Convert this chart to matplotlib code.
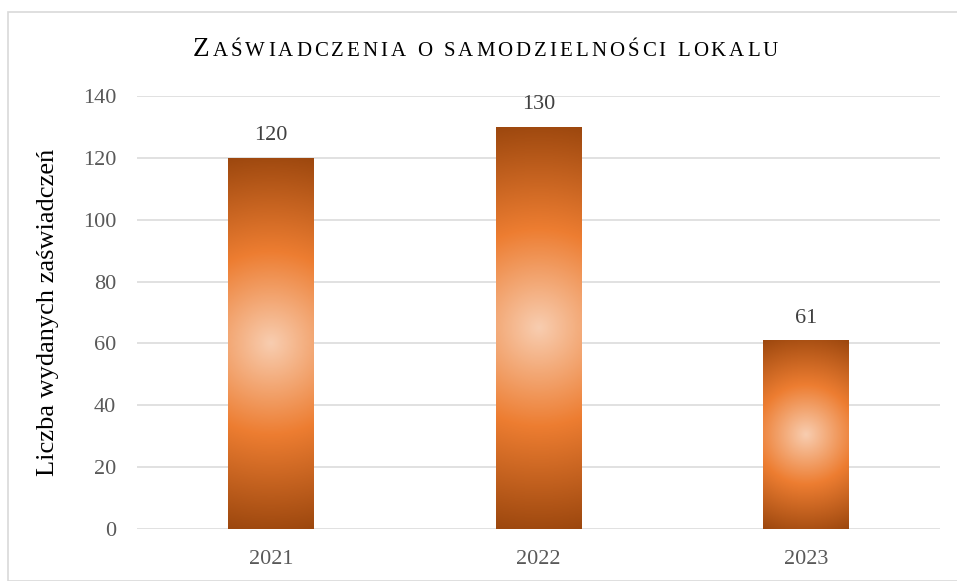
import matplotlib
matplotlib.use("Agg")

import matplotlib.pyplot as plt
import numpy as np
from matplotlib.colors import LinearSegmentedColormap
from matplotlib.patches import Rectangle

years = ["2021", "2022", "2023"]
counts = [120, 130, 61]

title_text = "Zaświadczenia o samodzielności lokalu"
ylabel_text = "Liczba wydanych zaświadczeń"

serif = ["Liberation Serif", "DejaVu Serif"]
grid_color = "#d9d9d9"
tick_color = "#595959"

W, H = 957, 581
fig = plt.figure(figsize=(W / 100, H / 100), dpi=100)
ax = fig.add_axes([137 / W, 1 - 529 / H, (940 - 137) / W, (529 - 96) / H])

ax.set_xlim(-0.5, len(years) - 0.5)
ax.set_ylim(0, 140)
ax.set_yticks(np.arange(0, 141, 20))
ax.set_xticks(range(len(years)))
ax.set_xticklabels(years)

for s in ax.spines.values():
    s.set_visible(False)
ax.grid(axis="y", color=grid_color, linewidth=1.1)
ax.set_axisbelow(True)
ax.tick_params(length=0, labelsize=16, labelcolor=tick_color, pad=15)
for lab in ax.get_xticklabels() + ax.get_yticklabels():
    lab.set_family(serif)

# radial gradient like the Excel "orange" preset
cmap = LinearSegmentedColormap.from_list(
    "orange_radial",
    [(0.0, "#f8cdb0"), (0.48, "#ed7d31"), (1.0, "#9c470e")])

bar_w = 0.32
bars = ax.bar(range(len(years)), counts, width=bar_w, facecolor="none",
              edgecolor="none", zorder=2)

for bar in bars:
    x0, y0 = bar.get_x(), bar.get_y()
    bw, bh = bar.get_width(), bar.get_height()
    p0 = ax.transData.transform((x0, y0))
    p1 = ax.transData.transform((x0 + bw, y0 + bh))
    wpx, hpx = p1[0] - p0[0], p1[1] - p0[1]
    nx, ny = 120, 400
    gx = (np.linspace(0, 1, nx) - 0.5) * wpx
    gy = (np.linspace(0, 1, ny) - 0.5) * hpx
    XX, YY = np.meshgrid(gx, gy)
    r = np.sqrt(XX ** 2 + YY ** 2) / np.hypot(wpx / 2, hpx / 2)
    im = ax.imshow(r, cmap=cmap, vmin=0, vmax=1, aspect="auto",
                   extent=(x0, x0 + bw, y0, y0 + bh), origin="lower",
                   interpolation="bilinear", zorder=2)
    im.set_clip_path(bar)
    ax.annotate(str(int(bh)), (x0 + bw / 2, y0 + bh), xytext=(0, 9),
                textcoords="offset points", ha="center", va="bottom",
                fontsize=16, color="#404040", family=serif)

ax.set_xlim(-0.5, len(years) - 0.5)
ax.set_ylim(0, 140)

ax.set_ylabel(ylabel_text, fontsize=19, family=serif, color="#000000",
              labelpad=17)

# small-caps title built char by char
renderer = fig.canvas.get_renderer()
pieces = []
for i, ch in enumerate(title_text):
    if ch.isupper():
        pieces.append((ch, 19.5))
    else:
        pieces.append((ch.upper(), 15))
widths = []
texts = []
for ch, size in pieces:
    t = fig.text(0, 0, ch, fontsize=size, family=serif, color="#000000",
                 ha="left", va="baseline")
    texts.append(t)
    if ch == " ":
        widths.append(size * 100 / 72 * 0.25)
    else:
        widths.append(t.get_window_extent(renderer).width)
target_w = 778 - 193
gap = (target_w - sum(widths)) / (len(widths) - 1)
x = 193.0
for t, w in zip(texts, widths):
    t.set_position((x / W, 1 - 56 / H))
    x += w + gap

fig.patches.append(Rectangle((8 / W, 0), 1.0, 1 - 11.5 / H,
                             transform=fig.transFigure, fill=False,
                             edgecolor=grid_color, linewidth=1.2))

fig.savefig("out.png", dpi=100)
